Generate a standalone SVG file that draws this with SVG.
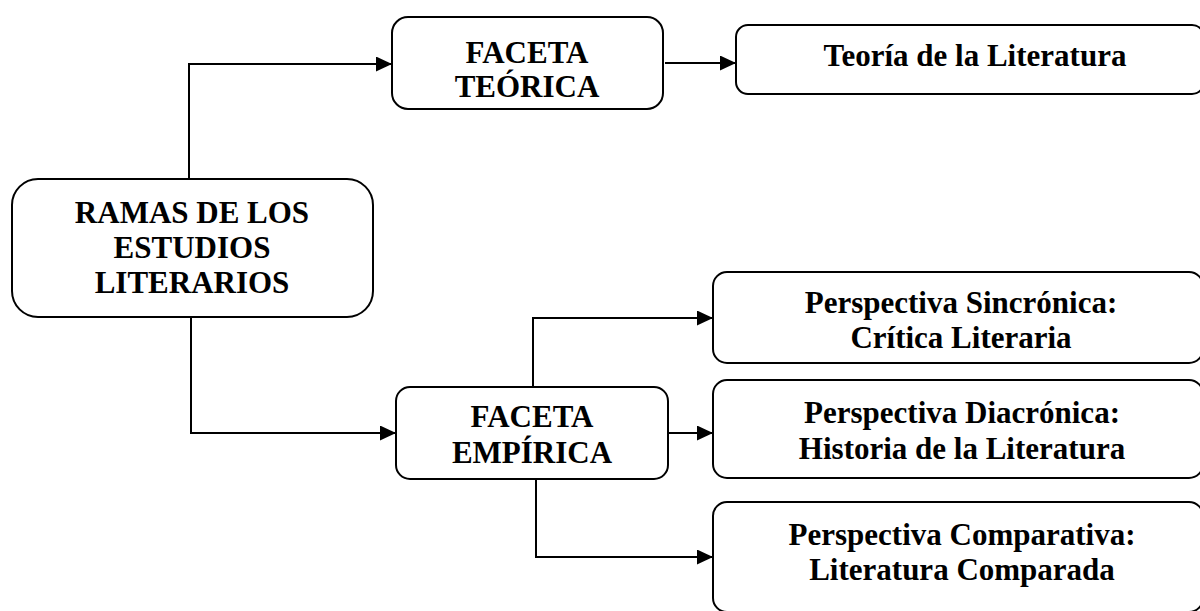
<svg xmlns="http://www.w3.org/2000/svg" width="1200" height="611" viewBox="0 0 1200 611">
  <style>
    .box { fill: #ffffff; stroke: #000000; stroke-width: 2; }
    .wire { fill: none; stroke: #000000; stroke-width: 2; marker-end: url(#head); }
    text { font-family: "Liberation Serif", "Times New Roman", serif; font-weight: bold; fill: #000000; text-anchor: middle; }
    .caps { font-size: 31px; }
    .lower { font-size: 31px; }
  </style>
  <defs>
    <marker id="head" markerUnits="userSpaceOnUse" markerWidth="17" markerHeight="16" refX="16" refY="7.5" orient="auto">
      <path d="M0,0 L16,7.5 L0,15 Z" fill="#000000"/>
    </marker>
  </defs>
  <rect width="1200" height="611" fill="#ffffff"/>

  <g id="connectors">
    <path class="wire" d="M189,179 V64 H392"/>
    <path class="wire" d="M191,317 V433 H396"/>
    <path class="wire" d="M665,63 H736"/>
    <path class="wire" d="M533,387 V318 H713"/>
    <path class="wire" d="M668,433 H713"/>
    <path class="wire" d="M536,479 V557 H713"/>
  </g>

  <g id="ramas">
    <rect class="box" x="12" y="179" width="361" height="138" rx="26"/>
    <text class="caps" x="192" y="223">RAMAS DE LOS</text>
    <text class="caps" x="192" y="258">ESTUDIOS</text>
    <text class="caps" x="192" y="293">LITERARIOS</text>
  </g>

  <g id="faceta-teorica">
    <rect class="box" x="392" y="17" width="271" height="92" rx="16"/>
    <text class="caps" x="527" y="63">FACETA</text>
    <text class="caps" x="527" y="97">TEÓRICA</text>
  </g>

  <g id="teoria">
    <rect class="box" x="736" y="25" width="468" height="69" rx="12"/>
    <text class="lower" x="975" y="66">Teoría de la Literatura</text>
  </g>

  <g id="faceta-empirica">
    <rect class="box" x="396" y="387" width="272" height="92" rx="14"/>
    <text class="caps" x="532" y="427">FACETA</text>
    <text class="caps" x="532" y="463">EMPÍRICA</text>
  </g>

  <g id="sincronica">
    <rect class="box" x="713" y="272" width="490" height="91" rx="14"/>
    <text class="lower" x="961" y="313">Perspectiva Sincrónica:</text>
    <text class="lower" x="961" y="348">Crítica Literaria</text>
  </g>

  <g id="diacronica">
    <rect class="box" x="713" y="380" width="490" height="98" rx="14"/>
    <text class="lower" x="962" y="423">Perspectiva Diacrónica:</text>
    <text class="lower" x="962" y="459">Historia de la Literatura</text>
  </g>

  <g id="comparativa">
    <rect class="box" x="713" y="502" width="490" height="110" rx="14"/>
    <text class="lower" x="962" y="545">Perspectiva Comparativa:</text>
    <text class="lower" x="962" y="580">Literatura Comparada</text>
  </g>
</svg>
